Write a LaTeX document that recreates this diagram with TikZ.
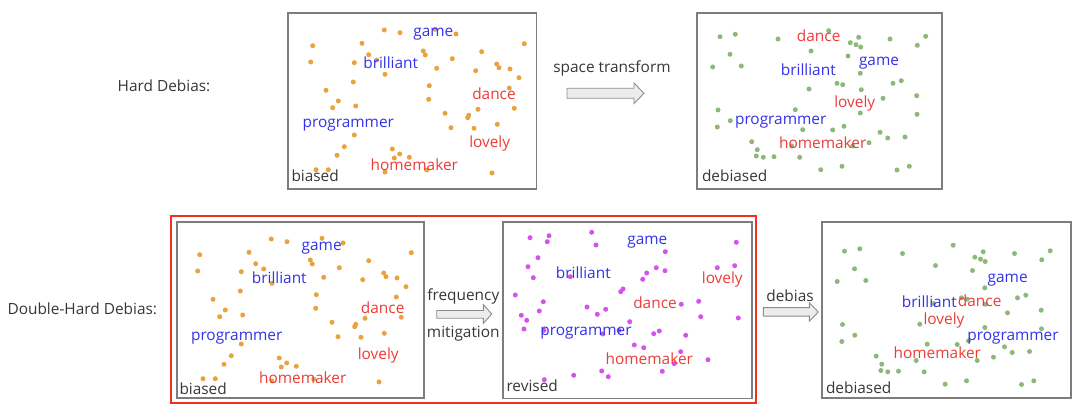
\documentclass[tikz,border=0pt]{standalone}
\usepackage{fontspec}
\setmainfont{Open Sans}
\definecolor{wblue}{RGB}{50,50,235}
\definecolor{wred}{RGB}{235,60,55}
\definecolor{dorange}{RGB}{232,162,62}
\definecolor{dgreen}{RGB}{140,185,120}
\definecolor{dmag}{RGB}{215,80,240}
\definecolor{fgray}{RGB}{125,125,125}
\definecolor{fred}{RGB}{235,50,35}
\definecolor{tdark}{RGB}{55,55,55}
\definecolor{afill}{RGB}{236,236,236}
\definecolor{astroke}{RGB}{140,140,140}
\tikzset{
  txt/.style={font=\fontsize{15.4}{18}\selectfont, inner sep=0pt, outer sep=0pt, anchor=mid, yshift=-3pt},
  bw/.style={txt, text=wblue},
  rw/.style={txt, text=wred},
  lbl/.style={txt, text=tdark},
  cornerlbl/.style={txt, text=tdark, anchor=mid west},
  plotbox/.style={draw=fgray, line width=1.5pt, inner sep=0pt, outer sep=0pt, anchor=north west},
  blk/.style={draw=astroke, fill=afill, line width=0.9pt, line join=miter},
}
\newcommand\biasdots{%
  \foreach \x/\y in {384.3/30, 400/32.7, 435/29.3, 456/34, 312.7/45.7, 362/43.3, 524.3/43.7, 368.7/54.7, 423.3/51, 425.3/55, 481.7/51.7, 310.7/62, 354.3/62.7, 376.7/60, 452.3/58.7, 496.7/64, 499/67.7, 510/69, 436.7/68.3, 475.7/70.7, 385/74.3, 519/77.7, 353.3/82, 429.3/85.7, 326/90.3, 509.3/88, 338.3/101, 428.7/99.3, 332.7/107.7, 355.7/106, 514.3/108.3, 478/109.3, 445/113.3, 468.7/115.3, 467.7/117.7, 497.3/124.3, 451/127.7, 474/128.3, 354.3/135, 344.3/146.7, 392.3/149, 399.7/154, 409.3/157.3, 394.3/158, 337/155.3, 316/169.7, 328.3/169.7, 385/172, 426.7/170, 492/173}
    {\fill[dorange] (\x,\y) circle (2.5);}}
\newcommand\debdots{%
  \foreach \x/\y in {720/36.7, 735.3/34.3, 778/39, 828.7/30.7, 858.7/37.3, 850.3/42.7, 856/44.7, 860.7/47, 890/39, 925.7/36.3, 917.3/45.3, 730/54.3, 811/51, 848/56, 712.7/67, 741.3/66, 860.3/73.3, 837/83.3, 842.7/84.7, 893/83.3, 901.3/80.7, 809/89, 861.3/89.7, 916.7/95.7, 883/98.3, 718/110, 795.3/109.7, 860.3/113, 917/114.3, 730.3/120.7, 717.3/127, 802.7/129.7, 832.7/130, 844/126.3, 880/132.3, 887.7/138, 905/137, 751.7/141.7, 757.3/149.7, 756.3/156, 763.3/157.3, 774/156.7, 799.7/157.3, 791.7/146, 852.7/146, 869/142.7, 820.7/169.7, 842/166.3, 897/170, 909.3/166.3}
    {\fill[dgreen] (\x,\y) circle (2.5);}}
\begin{document}
\begin{tikzpicture}[x=1pt,y=-1pt]
\useasboundingbox (0,0) rectangle (1080,411);

% ---------- Hard Debias row ----------
\node[lbl] (hard) at (164,86) {Hard Debias:};

\node[plotbox, minimum width=248.5pt, minimum height=176pt] (box1) at (288,13) {};
\biasdots
\node[bw] (b1game) at (433.3,30.7) {game};
\node[bw] (b1bril) at (390.7,63.3) {brilliant};
\node[bw] (b1prog) at (348.3,121.7) {programmer};
\node[rw] (b1dance) at (494,94) {dance};
\node[rw] (b1lovely) at (489.7,141.7) {lovely};
\node[rw] (b1home) at (414.3,165) {homemaker};
\node[cornerlbl] (b1lbl) at (291.5,175.7) {biased};

\node[lbl] (spacet) at (612,66.7) {space transform};
\draw[blk] (567,88.3) -- (634,88.3) -- (634,83) -- (644,93.3) -- (634,103.6) -- (634,98.3) -- (567,98.3) -- cycle;

\node[plotbox, minimum width=245pt, minimum height=176pt] (box2) at (697,13) {};
\debdots
\node[rw] (d1dance) at (818.7,35.7) {dance};
\node[bw] (d1game) at (879,60) {game};
\node[bw] (d1bril) at (808.3,70) {brilliant};
\node[rw] (d1lovely) at (854.7,102) {lovely};
\node[bw] (d1prog) at (780.7,118.7) {programmer};
\node[rw] (d1home) at (822.7,142.7) {homemaker};
\node[cornerlbl] (d1lbl) at (702,175.7) {debiased};

% ---------- Double-Hard Debias row ----------
\node[lbl] (dhard) at (82.3,309) {Double-Hard Debias:};
\node[draw=fred, line width=2.5pt, inner sep=0pt, outer sep=0pt, anchor=north west, minimum width=585pt, minimum height=187pt] (redframe) at (171,216) {};

\node[plotbox, minimum width=247pt, minimum height=176pt] (box3) at (177,222) {};
\begin{scope}[shift={(-113,209)}]
\biasdots
\end{scope}
\node[bw] (b2game) at (321.7,244.7) {game};
\node[bw] (b2bril) at (279.3,277.7) {brilliant};
\node[bw] (b2prog) at (236.7,335) {programmer};
\node[rw] (b2dance) at (382.7,307.7) {dance};
\node[rw] (b2lovely) at (378.3,354.3) {lovely};
\node[rw] (b2home) at (302.7,378.3) {homemaker};
\node[cornerlbl] (b2lbl) at (179.5,389) {biased};

\node[lbl] (freq) at (463.3,295) {frequency};
\node[lbl] (mitig) at (463.3,331.7) {mitigation};
\draw[blk] (436.7,310.5) -- (483.3,310.5) -- (483.3,304.5) -- (491.7,314) -- (483.3,323.5) -- (483.3,318.3) -- (436.7,318.3) -- cycle;

\node[plotbox, minimum width=249pt, minimum height=176.5pt] (box4) at (503,222) {};
\foreach \x/\y in {530/237.7, 549/235.7, 547.3/241.7, 591.7/232.3, 596/245, 665.3/251.7, 736.3/242.3, 538/257.7, 528/266.7, 533.3/277.7, 570.3/276.7, 656.3/267.7, 665/270.7, 646.7/273, 642.7/279.3, 717.3/267.7, 734.7/265.7, 623/289, 620.7/291.7, 515.3/295, 543.3/301.7, 539.3/311, 587/307, 605.7/309.3, 597.3/314.3, 681.3/304.3, 698.7/301.3, 700.7/316.7, 738.3/318, 521.3/315.3, 526.7/320.3, 524/329, 544/330.3, 629.7/321.7, 602.7/334, 619/330.3, 653.7/333.7, 659.3/331, 685.7/335.3, 634.3/345, 643.7/347.7, 680.7/351.7, 708/359.7, 674.3/363.7, 662.3/371.3, 601.7/371, 608.3/376.7, 573.7/375.3, 544.3/379.7}
  {\fill[dmag] (\x,\y) circle (2.5);}
\node[bw] (r1game) at (647.3,239) {game};
\node[bw] (r1bril) at (583.3,272.7) {brilliant};
\node[rw] (r1lovely) at (722.3,277.7) {lovely};
\node[rw] (r1dance) at (655,302.7) {dance};
\node[bw] (r1prog) at (586,330.3) {programmer};
\node[rw] (r1home) at (649.3,359) {homemaker};
\node[cornerlbl] (r1lbl) at (506.5,385.7) {revised};

\node[lbl] (debias) at (790,296) {debias};
\draw[blk] (763.3,307.7) -- (809.3,307.7) -- (809.3,302.7) -- (818.3,312) -- (809.3,321.3) -- (809.3,316.2) -- (763.3,316.2) -- cycle;

\node[plotbox, minimum width=249pt, minimum height=176pt] (box5) at (822,222) {};
\begin{scope}[shift={(124.5,214.5)}]
\debdots
\end{scope}
\node[bw] (d2game) at (1007.7,276.7) {game};
\node[bw] (d2bril) at (929.3,302.3) {brilliant};
\node[rw] (d2dance) at (979.7,300.7) {dance};
\node[rw] (d2lovely) at (944,319.3) {lovely};
\node[bw] (d2prog) at (1013,335) {programmer};
\node[rw] (d2home) at (937.3,352.7) {homemaker};
\node[cornerlbl] (d2lbl) at (826,388.3) {debiased};
\end{tikzpicture}
\end{document}
